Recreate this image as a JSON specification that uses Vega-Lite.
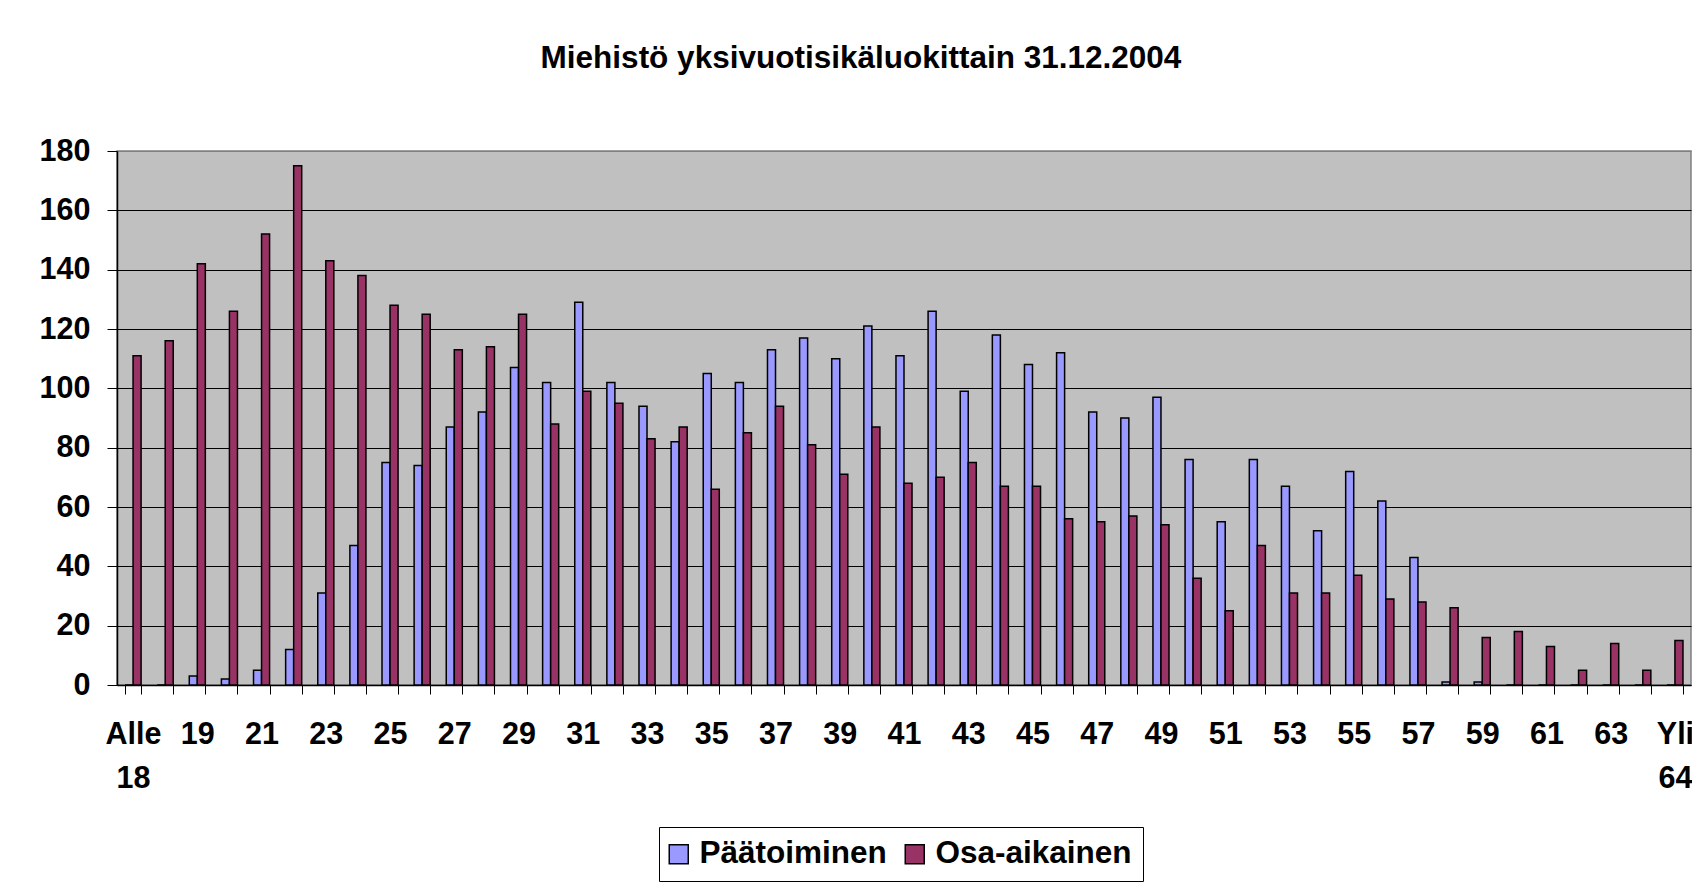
{
  "$schema": "https://vega.github.io/schema/vega-lite/v6.json",
  "autosize": {"type": "none"},
  "padding": {"left": 117, "top": 151, "right": 1, "bottom": 197},
  "width": 1574,
  "height": 534,
  "background": "white",
  "title": {
    "text": "Miehistö yksivuotisikäluokittain 31.12.2004",
    "font": "Liberation Sans",
    "fontSize": 31.5,
    "fontWeight": "bold",
    "color": "black",
    "anchor": "middle",
    "frame": "group",
    "dx": -43,
    "offset": 62
  },
  "data": {
    "values": [
      {"ika": "Alle 18", "sarja": "Päätoiminen", "n": 0},
      {"ika": "Alle 18", "sarja": "Osa-aikainen", "n": 111},
      {"ika": "18", "sarja": "Päätoiminen", "n": 0},
      {"ika": "18", "sarja": "Osa-aikainen", "n": 116},
      {"ika": "19", "sarja": "Päätoiminen", "n": 3},
      {"ika": "19", "sarja": "Osa-aikainen", "n": 142},
      {"ika": "20", "sarja": "Päätoiminen", "n": 2},
      {"ika": "20", "sarja": "Osa-aikainen", "n": 126},
      {"ika": "21", "sarja": "Päätoiminen", "n": 5},
      {"ika": "21", "sarja": "Osa-aikainen", "n": 152},
      {"ika": "22", "sarja": "Päätoiminen", "n": 12},
      {"ika": "22", "sarja": "Osa-aikainen", "n": 175},
      {"ika": "23", "sarja": "Päätoiminen", "n": 31},
      {"ika": "23", "sarja": "Osa-aikainen", "n": 143},
      {"ika": "24", "sarja": "Päätoiminen", "n": 47},
      {"ika": "24", "sarja": "Osa-aikainen", "n": 138},
      {"ika": "25", "sarja": "Päätoiminen", "n": 75},
      {"ika": "25", "sarja": "Osa-aikainen", "n": 128},
      {"ika": "26", "sarja": "Päätoiminen", "n": 74},
      {"ika": "26", "sarja": "Osa-aikainen", "n": 125},
      {"ika": "27", "sarja": "Päätoiminen", "n": 87},
      {"ika": "27", "sarja": "Osa-aikainen", "n": 113},
      {"ika": "28", "sarja": "Päätoiminen", "n": 92},
      {"ika": "28", "sarja": "Osa-aikainen", "n": 114},
      {"ika": "29", "sarja": "Päätoiminen", "n": 107},
      {"ika": "29", "sarja": "Osa-aikainen", "n": 125},
      {"ika": "30", "sarja": "Päätoiminen", "n": 102},
      {"ika": "30", "sarja": "Osa-aikainen", "n": 88},
      {"ika": "31", "sarja": "Päätoiminen", "n": 129},
      {"ika": "31", "sarja": "Osa-aikainen", "n": 99},
      {"ika": "32", "sarja": "Päätoiminen", "n": 102},
      {"ika": "32", "sarja": "Osa-aikainen", "n": 95},
      {"ika": "33", "sarja": "Päätoiminen", "n": 94},
      {"ika": "33", "sarja": "Osa-aikainen", "n": 83},
      {"ika": "34", "sarja": "Päätoiminen", "n": 82},
      {"ika": "34", "sarja": "Osa-aikainen", "n": 87},
      {"ika": "35", "sarja": "Päätoiminen", "n": 105},
      {"ika": "35", "sarja": "Osa-aikainen", "n": 66},
      {"ika": "36", "sarja": "Päätoiminen", "n": 102},
      {"ika": "36", "sarja": "Osa-aikainen", "n": 85},
      {"ika": "37", "sarja": "Päätoiminen", "n": 113},
      {"ika": "37", "sarja": "Osa-aikainen", "n": 94},
      {"ika": "38", "sarja": "Päätoiminen", "n": 117},
      {"ika": "38", "sarja": "Osa-aikainen", "n": 81},
      {"ika": "39", "sarja": "Päätoiminen", "n": 110},
      {"ika": "39", "sarja": "Osa-aikainen", "n": 71},
      {"ika": "40", "sarja": "Päätoiminen", "n": 121},
      {"ika": "40", "sarja": "Osa-aikainen", "n": 87},
      {"ika": "41", "sarja": "Päätoiminen", "n": 111},
      {"ika": "41", "sarja": "Osa-aikainen", "n": 68},
      {"ika": "42", "sarja": "Päätoiminen", "n": 126},
      {"ika": "42", "sarja": "Osa-aikainen", "n": 70},
      {"ika": "43", "sarja": "Päätoiminen", "n": 99},
      {"ika": "43", "sarja": "Osa-aikainen", "n": 75},
      {"ika": "44", "sarja": "Päätoiminen", "n": 118},
      {"ika": "44", "sarja": "Osa-aikainen", "n": 67},
      {"ika": "45", "sarja": "Päätoiminen", "n": 108},
      {"ika": "45", "sarja": "Osa-aikainen", "n": 67},
      {"ika": "46", "sarja": "Päätoiminen", "n": 112},
      {"ika": "46", "sarja": "Osa-aikainen", "n": 56},
      {"ika": "47", "sarja": "Päätoiminen", "n": 92},
      {"ika": "47", "sarja": "Osa-aikainen", "n": 55},
      {"ika": "48", "sarja": "Päätoiminen", "n": 90},
      {"ika": "48", "sarja": "Osa-aikainen", "n": 57},
      {"ika": "49", "sarja": "Päätoiminen", "n": 97},
      {"ika": "49", "sarja": "Osa-aikainen", "n": 54},
      {"ika": "50", "sarja": "Päätoiminen", "n": 76},
      {"ika": "50", "sarja": "Osa-aikainen", "n": 36},
      {"ika": "51", "sarja": "Päätoiminen", "n": 55},
      {"ika": "51", "sarja": "Osa-aikainen", "n": 25},
      {"ika": "52", "sarja": "Päätoiminen", "n": 76},
      {"ika": "52", "sarja": "Osa-aikainen", "n": 47},
      {"ika": "53", "sarja": "Päätoiminen", "n": 67},
      {"ika": "53", "sarja": "Osa-aikainen", "n": 31},
      {"ika": "54", "sarja": "Päätoiminen", "n": 52},
      {"ika": "54", "sarja": "Osa-aikainen", "n": 31},
      {"ika": "55", "sarja": "Päätoiminen", "n": 72},
      {"ika": "55", "sarja": "Osa-aikainen", "n": 37},
      {"ika": "56", "sarja": "Päätoiminen", "n": 62},
      {"ika": "56", "sarja": "Osa-aikainen", "n": 29},
      {"ika": "57", "sarja": "Päätoiminen", "n": 43},
      {"ika": "57", "sarja": "Osa-aikainen", "n": 28},
      {"ika": "58", "sarja": "Päätoiminen", "n": 1},
      {"ika": "58", "sarja": "Osa-aikainen", "n": 26},
      {"ika": "59", "sarja": "Päätoiminen", "n": 1},
      {"ika": "59", "sarja": "Osa-aikainen", "n": 16},
      {"ika": "60", "sarja": "Päätoiminen", "n": 0},
      {"ika": "60", "sarja": "Osa-aikainen", "n": 18},
      {"ika": "61", "sarja": "Päätoiminen", "n": 0},
      {"ika": "61", "sarja": "Osa-aikainen", "n": 13},
      {"ika": "62", "sarja": "Päätoiminen", "n": 0},
      {"ika": "62", "sarja": "Osa-aikainen", "n": 5},
      {"ika": "63", "sarja": "Päätoiminen", "n": 0},
      {"ika": "63", "sarja": "Osa-aikainen", "n": 14},
      {"ika": "64", "sarja": "Päätoiminen", "n": 0},
      {"ika": "64", "sarja": "Osa-aikainen", "n": 5},
      {"ika": "Yli 64", "sarja": "Päätoiminen", "n": 0},
      {"ika": "Yli 64", "sarja": "Osa-aikainen", "n": 15}
    ]
  },
  "mark": {"type": "bar", "stroke": "black", "strokeWidth": 1.5},
  "encoding": {
    "x": {
      "field": "ika",
      "type": "nominal",
      "sort": null,
      "scale": {"paddingInner": 0.5, "paddingOuter": 0.25},
      "axis": {
        "title": null,
        "labelAngle": 0,
        "tickBand": "extent",
        "tickSize": 9,
        "tickColor": "black",
        "tickWidth": 1,
        "domainColor": "black",
        "domainWidth": 1.5,
        "labelFont": "Liberation Sans",
        "labelFontSize": 30.5,
        "labelFontWeight": "bold",
        "labelColor": "black",
        "labelPadding": 25,
        "labelLineHeight": 44,
        "labelOverlap": false,
        "labelFlush": false,
        "labelBound": false,
        "grid": false,
        "labelExpr": "indexof(['Alle 18', 'Yli 64'], datum.label) >= 0 ? split(datum.label, ' ') : (toNumber(datum.label) % 2 == 1 ? datum.label : '')"
      }
    },
    "xOffset": {
      "field": "sarja",
      "type": "nominal",
      "sort": ["Päätoiminen", "Osa-aikainen"],
      "scale": {"paddingInner": 0, "paddingOuter": 0}
    },
    "y": {
      "field": "n",
      "type": "quantitative",
      "scale": {"domain": [0, 180], "nice": false},
      "axis": {
        "title": null,
        "values": [0, 20, 40, 60, 80, 100, 120, 140, 160, 180],
        "tickSize": 10,
        "tickColor": "black",
        "tickWidth": 1,
        "domainColor": "black",
        "domainWidth": 1.5,
        "labelFont": "Liberation Sans",
        "labelFontSize": 30.5,
        "labelFontWeight": "bold",
        "labelColor": "black",
        "labelPadding": 17,
        "grid": true,
        "gridColor": {"condition": {"test": "datum.value === 180", "value": "#808080"}, "value": "black"},
        "gridWidth": 1,
        "gridOpacity": 1
      }
    },
    "color": {
      "field": "sarja",
      "type": "nominal",
      "sort": ["Päätoiminen", "Osa-aikainen"],
      "scale": {"domain": ["Päätoiminen", "Osa-aikainen"], "range": ["#9999FF", "#993366"]},
      "legend": {
        "title": null,
        "orient": "none",
        "legendX": 542,
        "legendY": 676,
        "direction": "horizontal",
        "strokeColor": "black",
        "fillColor": "white",
        "padding": 11,
        "symbolType": "square",
        "symbolSize": 361,
        "symbolOffset": -7,
        "symbolStrokeColor": "black",
        "symbolStrokeWidth": 1.5,
        "symbolOpacity": 1,
        "labelFont": "Liberation Sans",
        "labelFontSize": 31.5,
        "labelFontWeight": "bold",
        "labelColor": "black",
        "labelOffset": 5,
        "columnPadding": 15,
        "labelLimit": 400
      }
    }
  },
  "config": {
    "view": {"stroke": "#808080", "strokeWidth": 1.5, "fill": "#C0C0C0"}
  }
}
